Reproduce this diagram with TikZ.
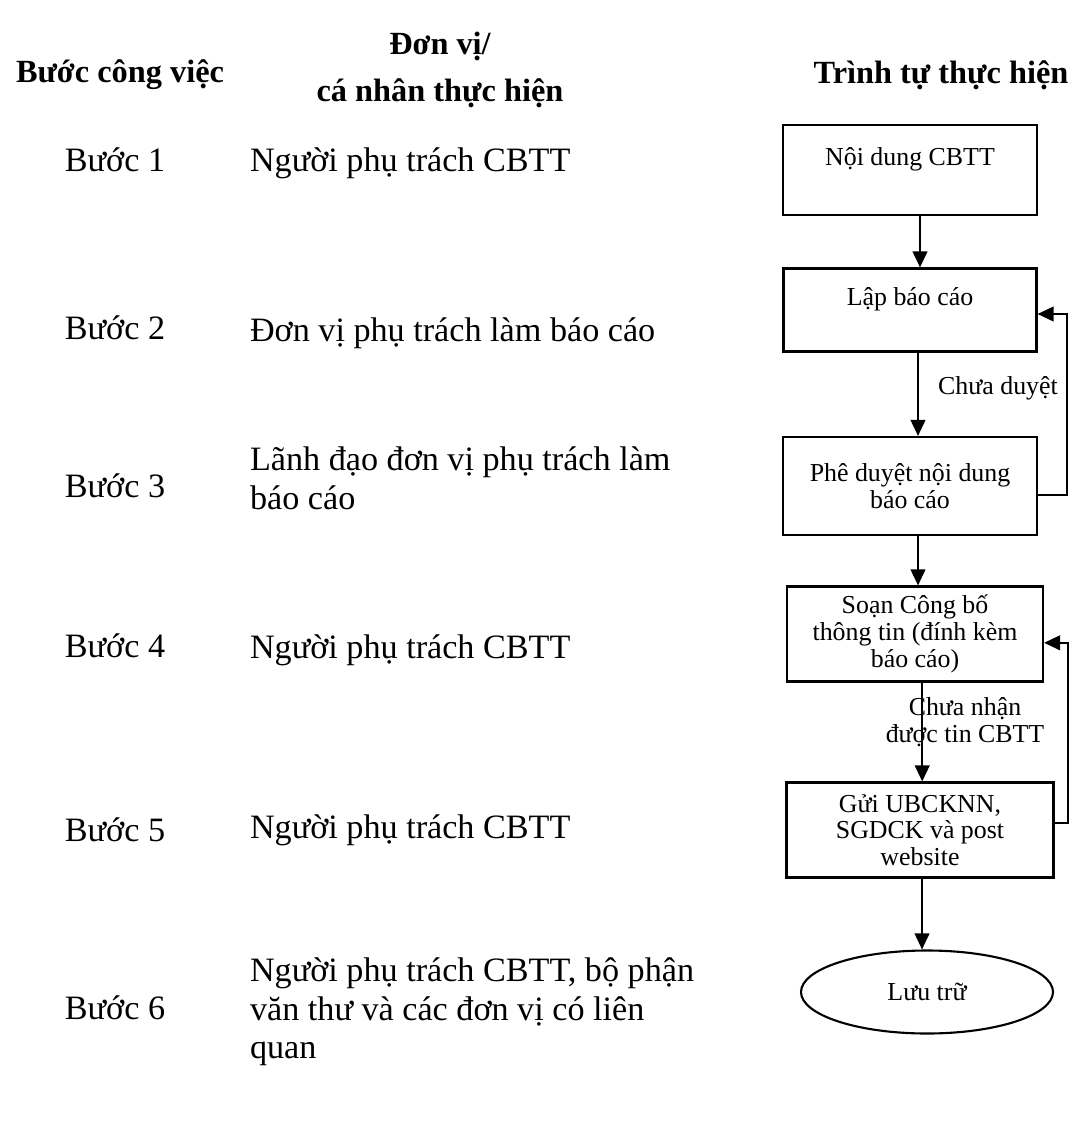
\documentclass[tikz,border=0pt]{standalone}
\usepackage{fontspec}
\setmainfont{Liberation Serif}
\usetikzlibrary{positioning,shapes.geometric,arrows.meta}

\begin{document}
\begin{tikzpicture}[x=0.025cm, y=-0.025cm, line width=1.5pt,
  head/.style={font=\fontsize{23}{33}\selectfont\bfseries, align=center},
  steplbl/.style={font=\fontsize{24.3}{27}\selectfont},
  who/.style={font=\fontsize{24.3}{27.5}\selectfont, align=left, anchor=west, inner sep=0pt},
  flowbox/.style={draw, rectangle, font=\fontsize{18.4}{19}\selectfont, align=center, inner sep=0pt},
  note/.style={font=\fontsize{18.4}{19}\selectfont, align=center, inner sep=0pt},
  arr/.style={-{Triangle[length=11.5pt, width=10.5pt]}}]
  \useasboundingbox (0,0) rectangle (1074,1130);

  % column heads
  \node[head] (hstep) at (120,75) {Bước công việc};
  \node[head] (hwho) at (440,70) {Đơn vị/\\cá nhân thực hiện};
  \node[head] (hflow) at (941,75) {Trình tự thực hiện};

  % steps
  \node[steplbl] (step1) at (115,160) {Bước 1};
  \node[steplbl] (step2) at (115,328) {Bước 2};
  \node[steplbl] (step3) at (115,486) {Bước 3};
  \node[steplbl] (step4) at (115,646) {Bước 4};
  \node[steplbl] (step5) at (115,830) {Bước 5};
  \node[steplbl] (step6) at (115,1008) {Bước 6};

  \node[who] (who1) at (249,163) {Người phụ trách CBTT};
  \node[who] (who2) at (249,333) {Đơn vị phụ trách làm báo cáo};
  \node[who] (who3) at (249,478) {Lãnh đạo đơn vị phụ trách làm\\báo cáo};
  \node[who] (who4) at (249,650) {Người phụ trách CBTT};
  \node[who] (who5) at (249,830) {Người phụ trách CBTT};
  \node[who] (who6) at (249,1012) {Người phụ trách CBTT, bộ phận\\văn thư và các đơn vị có liên\\quan};

  % flow
  \node[flowbox, minimum width=254*0.025cm, minimum height=90*0.025cm] (noidung) at (910,170) {Nội dung CBTT\\\mbox{}};
  \node[flowbox, minimum width=253*0.025cm, minimum height=83*0.025cm] (lapbc) at (910,310) {Lập báo cáo\\\mbox{}};
  \node[flowbox, minimum width=254*0.025cm, minimum height=98*0.025cm] (pheduyet) at (910,486) {Phê duyệt nội dung\\báo cáo};
  \node[flowbox, minimum width=256*0.025cm, minimum height=95*0.025cm] (soan) at (915,634) {Soạn Công bố\\thông tin (đính kèm\\báo cáo)};
  \node[flowbox, minimum width=267*0.025cm, minimum height=95*0.025cm] (gui) at (920,830) {Gửi UBCKNN,\\SGDCK và post\\website};
  \node[flowbox, ellipse, minimum width=252*0.025cm, minimum height=83*0.025cm] (luutru) at (927,992) {Lưu trữ};

  \draw[arr] ([xshift=0.25cm]noidung.south) -- ([xshift=0.25cm]noidung.south |- lapbc.north);
  \draw[arr] ([xshift=0.2cm]lapbc.south) -- ([xshift=0.2cm]lapbc.south |- pheduyet.north);
  \draw[arr] ([xshift=0.2cm]pheduyet.south) -- ([xshift=0.2cm]pheduyet.south |- soan.north);
  \draw[arr] ([xshift=0.18cm]soan.south) -- ([xshift=0.18cm]soan.south |- gui.north);
  \draw[arr] ([xshift=0.05cm]gui.south) -- ([xshift=0.05cm]gui.south |- luutru.north);

  \draw[arr] ([yshift=-0.22cm]pheduyet.east) -- ++(29,0) |- ([yshift=-0.1cm]lapbc.east);
  \draw[arr] ([yshift=0.18cm]gui.east) -- ++(13,0) |- ([yshift=-0.22cm]soan.east);

  \node[note] (chuaduyet) at (998,388) {Chưa duyệt};
  \node[note] (chuanhan) at (965,722) {Chưa nhận\\được tin CBTT};
\end{tikzpicture}
\end{document}
